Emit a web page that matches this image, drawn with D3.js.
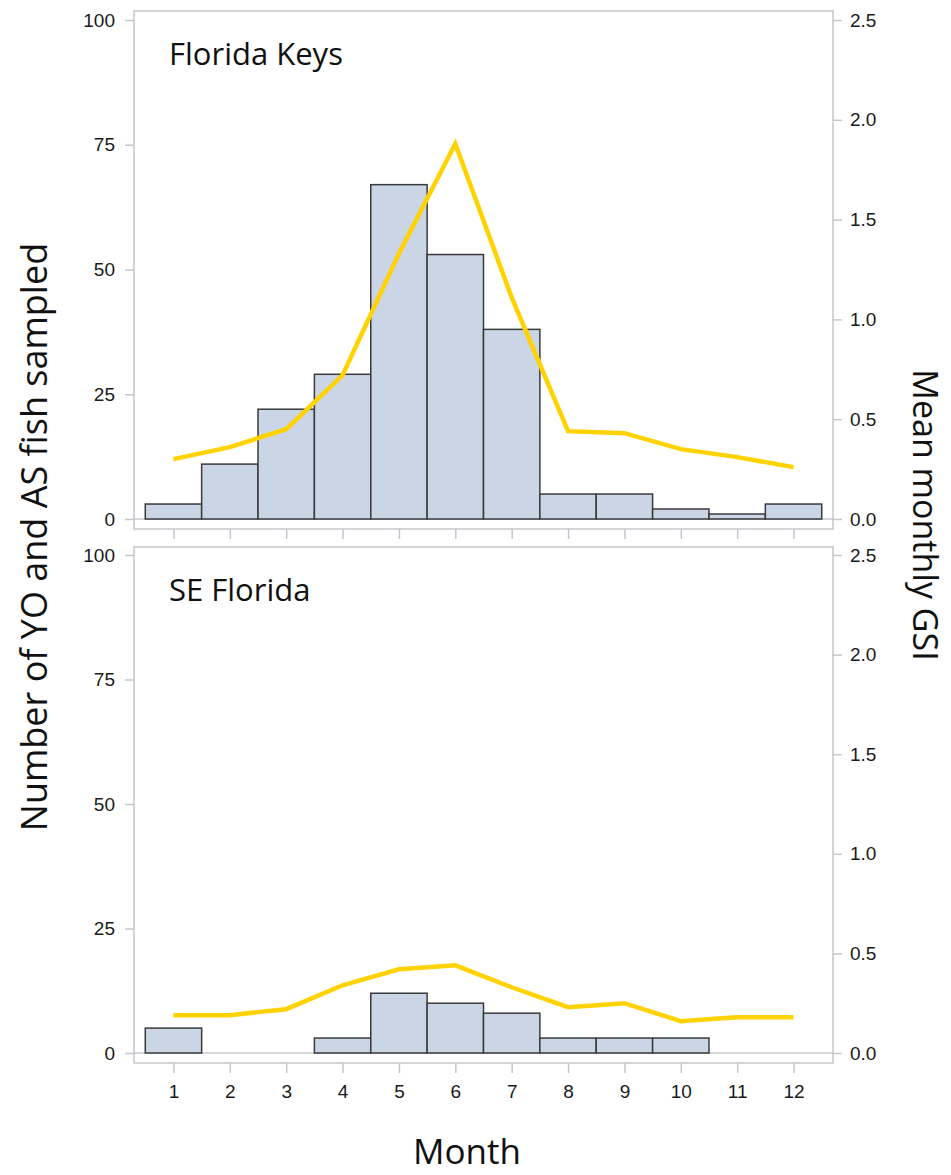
<!DOCTYPE html>
<html>
<head>
<meta charset="utf-8">
<script src="https://cdn.jsdelivr.net/npm/d3@7"></script>
<style>
  body { margin: 0; background: #fff; }
</style>
</head>
<body>
<div id="chart"></div>
<script>
// months and values
var months = [1, 2, 3, 4, 5, 6, 7, 8, 9, 10, 11, 12];

var keysCount = [3, 11, 22, 29, 67, 53, 38, 5, 5, 2, 1, 3];
var keysGSI = [0.30, 0.36, 0.45, 0.72, 1.33, 1.88, 1.11, 0.44, 0.43, 0.35, 0.31, 0.26];

var seCount = [5, 0, 0, 3, 12, 10, 8, 3, 3, 3, 0, 0];
var seGSI = [0.19, 0.19, 0.22, 0.34, 0.42, 0.44, 0.33, 0.23, 0.25, 0.16, 0.18, 0.18];

var leftTicks = [0, 25, 50, 75, 100];
var rightTicks = [0, 0.5, 1.0, 1.5, 2.0, 2.5];

var panels = [
  { name: "Florida Keys", counts: keysCount, gsi: keysGSI, top: 11, bottom: 529, y0: 519, y100: 20 },
  { name: "SE Florida", counts: seCount, gsi: seGSI, top: 547, bottom: 1063, y0: 1053, y100: 555 }
];

var w = 951, h = 1175;
var left = 134, right = 833;
var frameColor = "#c3c7cc";
var tickFont = "'Liberation Sans', Arial, sans-serif";
var titleFont = "'Open Sans', 'Noto Sans', sans-serif";

var svg = d3.select("#chart").append("svg")
  .attr("width", w)
  .attr("height", h);

var x = d3.scaleLinear().domain([0.3, 12.7]).range([left, right]);
var bw = x(1) - x(0);

panels.forEach(function(p, pi) {
  var y = d3.scaleLinear().domain([0, 100]).range([p.y0, p.y100]);
  var y2 = d3.scaleLinear().domain([0, 2.5]).range([p.y0, p.y100]);

  var g = svg.append("g").attr("class", "panel" + pi);

  // frame
  g.append("rect")
    .attr("x", left).attr("y", p.top)
    .attr("width", right - left).attr("height", p.bottom - p.top)
    .attr("fill", "none")
    .attr("stroke", frameColor)
    .attr("stroke-width", 1.5);

  // zero line
  g.append("line")
    .attr("x1", left).attr("x2", right)
    .attr("y1", y(0)).attr("y2", y(0))
    .attr("stroke", frameColor).attr("stroke-width", 1.5);

  // left axis
  var ly = g.append("g")
    .attr("transform", "translate(" + left + ",0)")
    .call(d3.axisLeft(y).tickValues(leftTicks).tickSize(9).tickPadding(10));

  // right axis
  var ry = g.append("g")
    .attr("transform", "translate(" + right + ",0)")
    .call(d3.axisRight(y2).tickValues(rightTicks).tickSize(9).tickPadding(8)
      .tickFormat(d3.format(".1f")));

  // bottom ticks
  var bx = g.append("g")
    .attr("transform", "translate(0," + p.bottom + ")")
    .call(d3.axisBottom(x).tickValues(months).tickSize(10).tickPadding(12)
      .tickFormat(pi === 1 ? d3.format("d") : function() { return ""; }));

  [ly, ry, bx].forEach(function(a) {
    a.select(".domain").remove();
    a.attr("font-size", 19).attr("font-family", tickFont);
    a.selectAll(".tick line").attr("stroke", frameColor).attr("stroke-width", 1.5);
    a.selectAll(".tick text").attr("fill", "#1a1a1a");
  });

  // bars
  g.selectAll("rect.bar")
    .data(months.map(function(m, i) { return { m: m, v: p.counts[i] }; })
      .filter(function(d) { return d.v > 0; }))
    .enter().append("rect")
    .attr("class", "bar")
    .attr("x", function(d) { return x(d.m - 0.5); })
    .attr("width", bw)
    .attr("y", function(d) { return y(d.v); })
    .attr("height", function(d) { return y(0) - y(d.v); })
    .attr("fill", "#cad5e5")
    .attr("stroke", "#3a3a3a")
    .attr("stroke-width", 1.5);

  // GSI line
  var line = d3.line()
    .x(function(d, i) { return x(months[i]); })
    .y(function(d) { return y2(d); });

  g.append("path")
    .datum(p.gsi)
    .attr("d", line)
    .attr("fill", "none")
    .attr("stroke", "#ffd200")
    .attr("stroke-width", 4.5)
    .attr("stroke-linejoin", "miter");

  // panel label
  g.append("text")
    .attr("x", 169)
    .attr("y", p.top + 54)
    .attr("fill", "#111")
    .style("font-family", titleFont)
    .style("font-size", "31px")
    .text(p.name);
});

// axis titles
svg.append("text")
  .attr("transform", "translate(47,537)rotate(-90)")
  .attr("text-anchor", "middle")
  .style("font-family", titleFont)
  .style("font-size", "36px")
  .attr("fill", "#111")
  .text("Number of YO and AS fish sampled");

svg.append("text")
  .attr("transform", "translate(913,515)rotate(90)")
  .attr("text-anchor", "middle")
  .style("font-family", titleFont)
  .style("font-size", "34px")
  .attr("fill", "#111")
  .text("Mean monthly GSI");

svg.append("text")
  .attr("x", 467)
  .attr("y", 1164)
  .attr("text-anchor", "middle")
  .style("font-family", titleFont)
  .style("font-size", "35px")
  .attr("fill", "#111")
  .text("Month");
</script>
</body>
</html>
